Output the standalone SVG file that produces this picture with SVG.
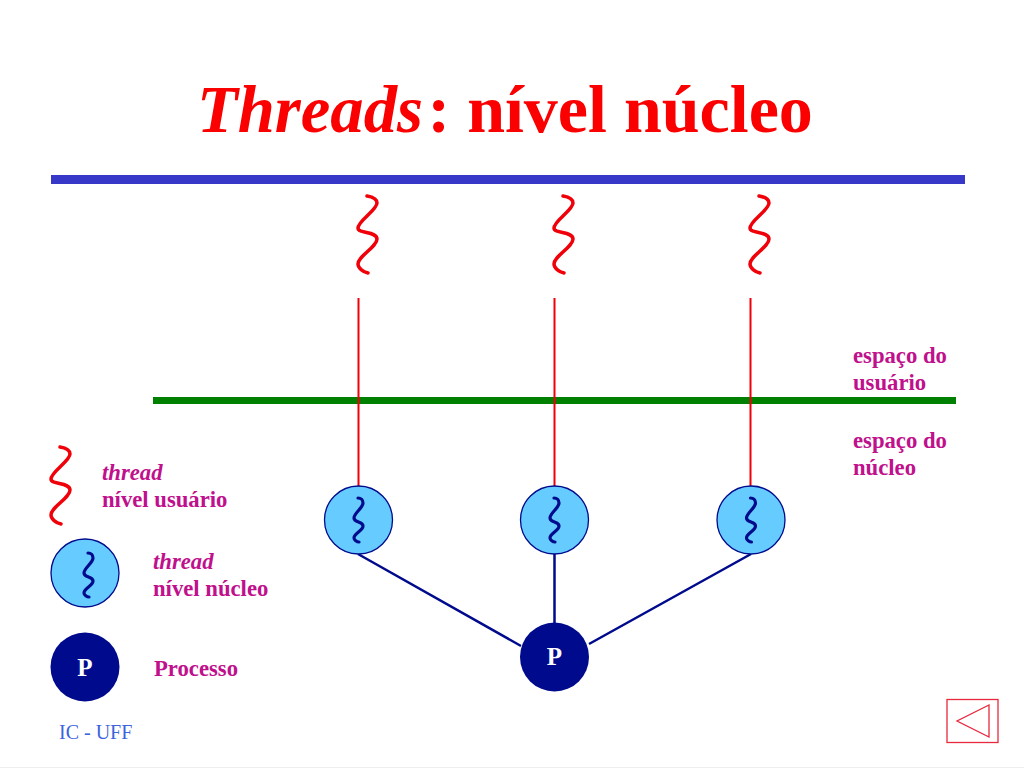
<svg xmlns="http://www.w3.org/2000/svg" width="1024" height="768" viewBox="0 0 1024 768">
<style>
text{font-family:"Liberation Serif","Times New Roman",serif}
.lab{font-size:22.700px;font-weight:bold;fill:#c0108c}
.it{font-style:italic}
.title{font-size:68px;font-weight:bold;fill:#fa0000}
.rw{fill:none;stroke:#f00008;stroke-width:3.500;stroke-linecap:round}
.bw{fill:none;stroke:#000a8c;stroke-width:3.200;stroke-linecap:round}
.kt{fill:#66ccff;stroke:#000a8c;stroke-width:1.300}
.pr{fill:#000a8c}
.pt{font-size:25px;font-weight:bold;fill:#fff;text-anchor:middle}
.red{fill:none;stroke:#f00008;stroke-width:2}
.blue{fill:none;stroke:#000a8c;stroke-width:2.500}
</style>
<defs>
<path id="rs" class="rw" d="M0 0C6 1 10 3 10 7C10 14-9 25-9 32C-9 38 10 35 10 43C10 51-9 60-9 68C-9 72-4 76 1 77"/>
<path id="bs" class="bw" d="M0 0C3 0 5 2 5 5C5 10-4 15-4 20C-4 25 5 23 5 28C5 33-4 35-4 40C-4 42-1 44 1 44"/>
</defs>
<rect width="1024" height="768" fill="#fff"/>
<rect y="767" width="1024" height="1" fill="#eeeeee"/>
<text class="title" x="197" y="132"><tspan class="it" textLength="226" lengthAdjust="spacingAndGlyphs">Threads</tspan><tspan x="427.500">: nível núcleo</tspan></text>
<rect x="51" y="175" width="914" height="9" fill="#3838c8"/>
<rect x="153" y="397" width="803" height="7" fill="#008000"/>
<g id="connectors">
<path class="red" d="M358.500 298V486M554.500 298V486M750.500 298V486"/>
<path class="blue" d="M358 554L521 646M554.500 554V623M751 554L589 644"/>
</g>
<g id="ut1"><use href="#rs" x="367" y="196"/></g>
<g id="ut2"><use href="#rs" x="563" y="196"/></g>
<g id="ut3"><use href="#rs" x="759" y="196"/></g>
<g id="kt1"><circle class="kt" cx="358.500" cy="520" r="34"/><use href="#bs" x="358" y="498"/></g>
<g id="kt2"><circle class="kt" cx="554.500" cy="520" r="34"/><use href="#bs" x="554" y="498"/></g>
<g id="kt3"><circle class="kt" cx="751" cy="520" r="34"/><use href="#bs" x="750.500" y="498"/></g>
<g id="process"><circle class="pr" cx="554.500" cy="657" r="34.500"/><text class="pt" x="554.500" y="665">P</text></g>
<g id="label-user"><text class="lab" x="853" y="362.500">espaço do</text><text class="lab" x="853" y="389.500">usuário</text></g>
<g id="label-kernel"><text class="lab" x="853" y="447.500">espaço do</text><text class="lab" x="853" y="474.500">núcleo</text></g>
<g id="legend-ut"><use href="#rs" x="60" y="447"/><text class="lab it" x="102" y="479.500">thread</text><text class="lab" x="102" y="507">nível usuário</text></g>
<g id="legend-kt"><circle class="kt" cx="85" cy="573" r="34"/><use href="#bs" x="88" y="553"/><text class="lab it" x="153" y="568.500">thread</text><text class="lab" x="153" y="595.500">nível núcleo</text></g>
<g id="legend-p"><circle class="pr" cx="85" cy="667" r="34.500"/><text class="pt" x="85" y="676">P</text><text class="lab" x="154" y="676">Processo</text></g>
<text id="footer" x="59" y="739" font-size="20" fill="#3c64dc">IC - UFF</text>
<g id="back-button" fill="none" stroke="#e8283c" stroke-width="1.300"><rect x="947" y="699.500" width="51" height="43"/><path d="M989 705V737L957 721Z"/></g>
</svg>
